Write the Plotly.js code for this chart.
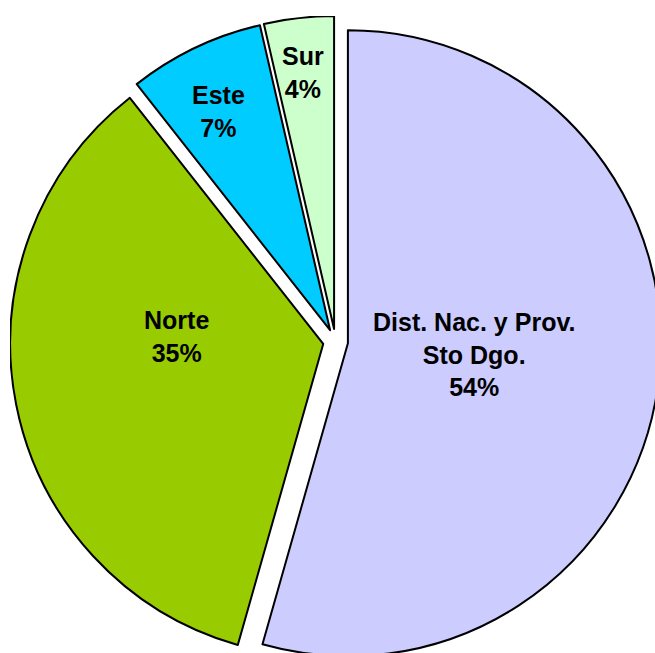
<!DOCTYPE html>
<html>
<head>
<meta charset="utf-8">
<script src="https://cdn.plot.ly/plotly-3.0.1.min.js"></script>
<style>
  html, body { margin: 0; padding: 0; background: #ffffff; overflow: hidden; width: 655px; height: 653px; }
  #chart { position: absolute; left: 10px; top: 15.5px; width: 651px; height: 651px; }
</style>
</head>
<body>
<div id="chart"></div>
<script>
const regions = ["Dist. Nac. y Prov.<br>Sto Dgo.", "Norte", "Este", "Sur"];
const shares = [54.4, 35.0, 7.0, 3.6];
const sliceColors = ["#CCCCFF", "#99CC00", "#00CCFF", "#CCFFCC"];

// label placement (paper fractions of the plot box), as in the original chart
const labelX = [0.713, 0.256, 0.321, 0.450];
const labelY = [0.480, 0.508, 0.853, 0.913];

const total = shares.reduce((a, b) => a + b, 0);

const trace = {
  type: "pie",
  labels: regions,
  values: shares,
  sort: false,
  direction: "clockwise",
  rotation: 0,
  pull: 0.04,
  marker: { colors: sliceColors, line: { color: "#000000", width: 2 } },
  textinfo: "none",
  hoverinfo: "none",
  showlegend: false
};

const annotations = regions.map((name, i) => ({
  xref: "paper", yref: "paper",
  x: labelX[i], y: labelY[i],
  xanchor: "center", yanchor: "middle",
  showarrow: false,
  align: "center",
  text: name + "<br>" + Math.round(shares[i] / total * 100) + "%",
  font: { family: "Liberation Sans, Arial, sans-serif", size: 25, color: "#000000", weight: "bold" }
}));

const layout = {
  width: 651,
  height: 651,
  margin: { l: 0, r: 0, t: 0, b: 0, pad: 0 },
  paper_bgcolor: "rgba(0,0,0,0)",
  plot_bgcolor: "rgba(0,0,0,0)",
  showlegend: false,
  annotations: annotations
};

Plotly.newPlot("chart", [trace], layout, { staticPlot: true, displayModeBar: false });
</script>
</body>
</html>
